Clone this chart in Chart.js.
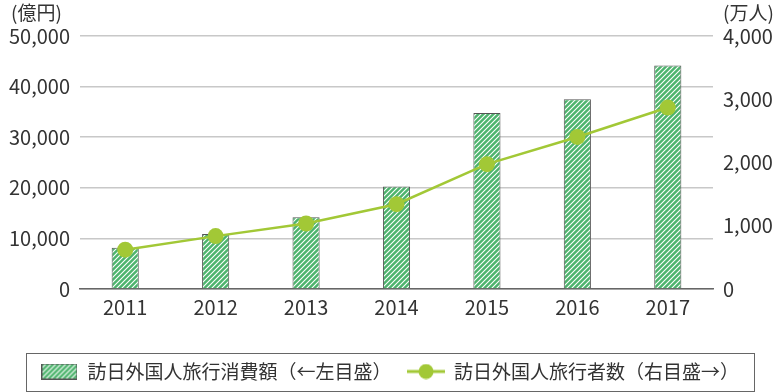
<!DOCTYPE html>
<html>
<head>
<meta charset="utf-8">
<script src="https://cdn.jsdelivr.net/npm/chart.js@4"></script>
<style>
  html, body { margin: 0; padding: 0; background: #fff; }
</style>
</head>
<body>
<canvas id="chart" width="780" height="392"></canvas>
<script>
const years = ['2011', '2012', '2013', '2014', '2015', '2016', '2017'];
const spending = [8135, 10846, 14167, 20278, 34771, 37476, 44162];   // 億円
const visitors = [622, 836, 1036, 1341, 1974, 2404, 2869];          // 万人
const spendingLabel = '訪日外国人旅行消費額（←左目盛）';
const visitorsLabel = '訪日外国人旅行者数（右目盛→）';

const FONT = '"Noto Sans CJK JP", "Noto Sans", sans-serif';
const barGreen = '#4db46d';
const lineGreen = '#a2c836';

function hatch(size) {
    const c = document.createElement('canvas');
    c.width = size; c.height = size;
    const g = c.getContext('2d');
    g.fillStyle = barGreen;
    g.fillRect(0, 0, size, size);
    g.strokeStyle = '#fff';
    g.lineWidth = 1.1;
    g.beginPath();
    g.moveTo(0, size); g.lineTo(size, 0);
    g.moveTo(-size / 2, size / 2); g.lineTo(size / 2, -size / 2);
    g.moveTo(size / 2, size * 1.5); g.lineTo(size * 1.5, size / 2);
    g.stroke();
    return g.createPattern(c, 'repeat');
}

// legend icons
function barIcon() {
    const c = document.createElement('canvas');
    c.width = 36; c.height = 16;
    const g = c.getContext('2d');
    g.fillStyle = hatch(5);
    g.fillRect(0.5, 0.5, 35, 15);
    g.strokeStyle = '#555';
    g.lineWidth = 1;
    g.strokeRect(0.5, 0.5, 35, 15);
    return c;
}
function lineIcon() {
    const c = document.createElement('canvas');
    c.width = 38; c.height = 16;
    const g = c.getContext('2d');
    g.strokeStyle = lineGreen;
    g.lineWidth = 3;
    g.beginPath(); g.moveTo(0, 8); g.lineTo(38, 8); g.stroke();
    g.fillStyle = lineGreen;
    g.beginPath(); g.arc(19, 8, 7.5, 0, Math.PI * 2); g.fill();
    return c;
}

const unitLabels = {
    id: 'unitLabels',
    afterDraw(chart) {
        const ctx = chart.ctx;
        ctx.save();
        ctx.font = '19px ' + FONT;
        ctx.fillStyle = '#333';
        ctx.textBaseline = 'middle';
        ctx.textAlign = 'left';
        ctx.fillText('(億円)', 11, 13);
        ctx.fillText('(万人)', chart.scales.y1.left + 10, 13);
        ctx.restore();
    }
};

const legendBox = {
    id: 'legendBox',
    afterDraw(chart) {
        const boxes = chart.legend.legendHitBoxes;
        if (!boxes || !boxes.length) return;
        const minX = Math.min(...boxes.map(b => b.left));
        const maxX = Math.max(...boxes.map(b => b.left + b.width));
        const midY = boxes[0].top + boxes[0].height / 2;
        const ctx = chart.ctx;
        ctx.save();
        ctx.strokeStyle = '#666';
        ctx.lineWidth = 1;
        ctx.strokeRect(Math.round(minX - 15) + 0.5, Math.round(midY - 19) + 0.5,
                       Math.round(maxX - minX + 30), 38);
        ctx.restore();
    }
};

const tickFont = { family: FONT, size: 20 };
const ctx = document.getElementById('chart').getContext('2d');

new Chart(ctx, {
    data: {
        labels: years,
        datasets: [
            {
                type: 'bar',
                label: spendingLabel,
                data: spending,
                yAxisID: 'y',
                backgroundColor: hatch(5),
                borderColor: '#555',
                borderWidth: 1,
                barPercentage: 0.3,
                categoryPercentage: 1,
                order: 2
            },
            {
                type: 'line',
                label: visitorsLabel,
                data: visitors,
                yAxisID: 'y1',
                borderColor: lineGreen,
                backgroundColor: lineGreen,
                borderWidth: 2.5,
                pointRadius: 8,
                pointBorderWidth: 0,
                tension: 0,
                order: 1
            }
        ]
    },
    options: {
        responsive: false,
        animation: false,
        layout: { padding: { top: 36, bottom: 1, left: 0, right: 0 } },
        plugins: {
            tooltip: { enabled: false },
            legend: {
                position: 'bottom',
                labels: {
                    usePointStyle: true,
                    pointStyleWidth: 37,
                    color: '#333',
                    font: { family: FONT, size: 19 },
                    padding: 16,
                    generateLabels: () => [
                        { text: spendingLabel, pointStyle: barIcon(), datasetIndex: 0, lineWidth: 0, fontColor: '#333' },
                        { text: visitorsLabel, pointStyle: lineIcon(), datasetIndex: 1, lineWidth: 0, fontColor: '#333' }
                    ]
                }
            }
        },
        scales: {
            x: {
                grid: { display: false, drawTicks: false },
                border: { color: '#666', width: 1.5 },
                ticks: { color: '#333', font: tickFont, padding: 6 },
                afterFit: s => { s.height = 57; }
            },
            y: {
                position: 'left',
                min: 0, max: 50000,
                ticks: {
                    stepSize: 10000,
                    color: '#333',
                    font: tickFont,
                    padding: 10,
                    callback: v => v.toLocaleString('en-US')
                },
                grid: { color: '#c8c8c8', lineWidth: 1.5, drawTicks: false },
                border: { display: false },
                afterFit: s => { s.width = 80; }
            },
            y1: {
                position: 'right',
                min: 0, max: 4000,
                ticks: {
                    stepSize: 1000,
                    color: '#333',
                    font: tickFont,
                    padding: 10,
                    callback: v => v.toLocaleString('en-US')
                },
                grid: { display: false, drawTicks: false },
                border: { display: false },
                afterFit: s => { s.width = 67; }
            }
        }
    },
    plugins: [unitLabels, legendBox]
});
</script>
</body>
</html>
